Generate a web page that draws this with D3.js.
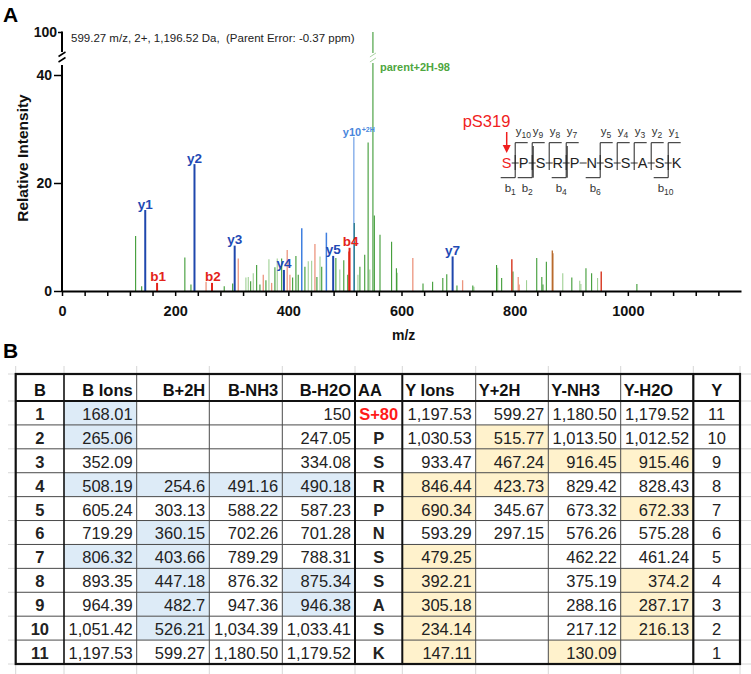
<!DOCTYPE html>
<html><head><meta charset="utf-8">
<script src="https://cdn.jsdelivr.net/npm/d3@7"></script>
<style>
body{margin:0;background:#fff}
svg{display:block}
text{font-family:"Liberation Sans",Arial,sans-serif}
</style>
</head><body>
<svg id="c" width="751" height="674"></svg>
<script>
// ---------------- DATA ----------------
const headerText = "599.27 m/z, 2+, 1,196.52 Da,  (Parent Error: -0.37 ppm)";
const parentLabel = "parent+2H-98";
const yAxisLabel = "Relative Intensity";
const xAxisLabel = "m/z";
const xMajorTicks = [0, 200, 400, 600, 800, 1000];
const xMinorStep = 40;
const xMax = 1160;
const yLowTicks = [0, 20, 40];
const yHighTicks = [100];

// [m/z, relative intensity]
const greenPeaks = [[130.1,10.2],[140.8,0.9],[217.12,6.2],[227.9,1.2],[286.7,0.9],[301.6,1.4],[333.4,1.8],[344,4.8],[349.8,1.2],[360.4,2.0],[376.3,4.4],[388.2,6.0],[407.6,2.5],[413.4,6.5],[417.5,3.0],[429.3,4.5],[450.5,2.6],[459,4.5],[484,6.1],[498,5.7],[505,3.0],[526.5,4.5],[535,6.7],[541,27.5],[549.5,100],[552,14],[562,10.4],[582.5,9.1],[591,4.2],[638,1.4],[655,1.7],[673,2.4],[680,3.1],[698,1.0],[726,1.0],[768,4.8],[777,2.4],[797,3.6],[839,6.1],[848,2.6],[850,1.2],[856,5.4],[901,2.5],[926,4.2],[936,3.3],[1016,1.3]];
const faintGreenPeaks = [[325,2.5],[329.2,2.6],[338,3.3],[365.7,5.9],[380.4,6.0],[435.2,5.5],[441.2,5.6],[456,6.4],[491,4.0],[523,3.0],[544,4.0],[592.5,3.4],[728,0.8],[770,4.3],[821,2.0],[885,3.3],[915,1.9],[917,1.3],[946.5,2.4]];
const bRelatedPeaks = [[254.6,1.7],[311.5,6.0],[355.7,3.0],[370.5,1.5],[398,7.6],[402.8,3.0],[447,8.7],[620,6.1],[708,2.0],[806.3,2.6],[808,1.2]];
const redPeaks = [[507.2,7.3],[795,5.9],[953,3.6]];
const y2HPeaks = [[423.73,11.6],[467.24,10.8]];
const y10_2HPeak = [[515.77,28.5]];
const tealPeaks = [[516.6,12.6]];
const brownPeaks = [[866.5,7.5],[867.5,7.0]];
// labelled ions [m/z, intensity, label]
const yIonPeaks = [[147.11,15,"y1"],[234.14,23.5,"y2"],[305.18,8.4,"y3"],[392.21,3.9,"y4"],[479.25,6.5,"y5"],[690.34,6.4,"y7"]];
const bIonPeaks = [[168.01,1.5,"b1"],[265.06,1.5,"b2"],[508.19,8.0,"b4"]];

// peptide
const phosphoSite = "pS319";
const residues = ["S","P","S","R","P","N","S","S","A","S","K"];
const yFragments = [10,9,8,7,5,4,3,2,1];
const bFragments = [1,2,4,6,10];

// table
const tableHeaders = ["B","B Ions","B+2H","B-NH3","B-H2O","AA","Y Ions","Y+2H","Y-NH3","Y-H2O","Y"];
const bNum   = ["1","2","3","4","5","6","7","8","9","10","11"];
const bIons  = ["168.01","265.06","352.09","508.19","605.24","719.29","806.32","893.35","964.39","1,051.42","1,197.53"];
const b2H    = ["","","","254.6","303.13","360.15","403.66","447.18","482.7","526.21","599.27"];
const bNH3   = ["","","","491.16","588.22","702.26","789.29","876.32","947.36","1,034.39","1,180.50"];
const bH2O   = ["150","247.05","334.08","490.18","587.23","701.28","788.31","875.34","946.38","1,033.41","1,179.52"];
const aa     = ["S+80","P","S","R","P","N","S","S","A","S","K"];
const yIons  = ["1,197.53","1,030.53","933.47","846.44","690.34","593.29","479.25","392.21","305.18","234.14","147.11"];
const y2H    = ["599.27","515.77","467.24","423.73","345.67","297.15","","","","",""];
const yNH3   = ["1,180.50","1,013.50","916.45","829.42","673.32","576.26","462.22","375.19","288.16","217.12","130.09"];
const yH2O   = ["1,179.52","1,012.52","915.46","828.43","672.33","575.28","461.24","374.2","287.17","216.13",""];
const yNum   = ["11","10","9","8","7","6","5","4","3","2","1"];
// matched cells (row indices) per column
const bMatched = {1:[0,1,3,6], 2:[3,5,6,7,8,9], 3:[3], 4:[3,7,8]};
const yMatched = {6:[3,4,6,7,8,9,10], 7:[1,2,3], 8:[2,10], 9:[2,4,7,8,9]};

// ---------------- DRAW ----------------
const svg = d3.select("#c");

// panel letters
svg.append("text").attr("x",3).attr("y",21.7).attr("font-size",21).attr("font-weight","bold").text("A");
svg.append("text").attr("x",3).attr("y",358.3).attr("font-size",21).attr("font-weight","bold").text("B");

const x = d3.scaleLinear().domain([0,1200]).range([62,741]);
const y = d3.scaleLinear().domain([0,40,41.85,95,100]).range([291,75,65,52,32]);

function drawPeaks(data, color, width){
  svg.append("g").selectAll("line").data(data).join("line")
    .attr("x1",d=>x(d[0])).attr("x2",d=>x(d[0]))
    .attr("y1",y(0)).attr("y2",d=>y(d[1]))
    .attr("stroke",color).attr("stroke-width",width);
}
drawPeaks(faintGreenPeaks,"#9fd094",1.1);
drawPeaks(greenPeaks,"#3e9b35",1.1);
drawPeaks(bRelatedPeaks,"#ec957e",1.3);
drawPeaks(redPeaks,"#d9412b",1.5);
drawPeaks(brownPeaks,"#b8692a",1.3);
drawPeaks(y10_2HPeak,"#7ba7e8",1.3);
drawPeaks(tealPeaks,"#2f7f8c",1.3);
drawPeaks(y2HPeaks,"#3f7fe0",1.5);
drawPeaks(yIonPeaks,"#1f47ad",2);
drawPeaks(bIonPeaks,"#e3241a",2);

// break on parent peak
const parentX = x(549.5);
svg.append("rect").attr("x",parentX-4).attr("y",53).attr("width",8).attr("height",10).attr("fill","#fff");
[[57],[62]].forEach(([yy])=>{
  svg.append("line").attr("x1",parentX-3).attr("x2",parentX+3).attr("y1",yy).attr("y2",yy-4)
    .attr("stroke","#a9d3a0").attr("stroke-width",1);
});

// ion labels
svg.append("g").selectAll("text").data(yIonPeaks).join("text")
  .attr("x",d=>x(d[0])).attr("y",d=>y(d[1])-1.5).attr("text-anchor","middle")
  .attr("font-size",13.5).attr("font-weight","bold").attr("fill","#1f4ab5").text(d=>d[2]);
svg.append("g").selectAll("text").data(bIonPeaks).join("text")
  .attr("x",d=>x(d[0])+1).attr("y",d=>y(d[1])-1.5).attr("text-anchor","middle")
  .attr("font-size",13.5).attr("font-weight","bold").attr("fill","#e3241a").text(d=>d[2]);
const y10t = svg.append("text").attr("x",x(y10_2HPeak[0][0])-11).attr("y",y(y10_2HPeak[0][1])-1.5)
  .attr("font-size",11).attr("font-weight","bold").attr("fill","#4a86dc");
y10t.append("tspan").text("y10");
y10t.append("tspan").attr("font-size",7).attr("dy",-4).attr("dx",0.5).text("+2H");

// parent label
svg.append("text").attr("x",parentX+7).attr("y",70.5).attr("font-size",11).attr("font-weight","bold")
  .attr("fill","#4ea640").text(parentLabel);

// header
svg.append("text").attr("x",71).attr("y",41.5).attr("font-size",11.5).attr("fill","#222").attr("xml:space","preserve").text(headerText);

// x axis
const xTicks = d3.range(0, xMax+1, xMinorStep);
const gx = svg.append("g").attr("transform",`translate(0,${y(0)})`)
  .call(d3.axisBottom(x).tickValues(xTicks).tickFormat(d=>xMajorTicks.includes(d)?d:"")
    .tickSize(5).tickPadding(10).tickSizeOuter(0));
gx.attr("font-family","Liberation Sans, Arial, sans-serif").attr("font-size",14.5).attr("font-weight","bold");
gx.select(".domain").attr("stroke","#000").attr("stroke-width",2);
gx.selectAll(".tick line").attr("stroke","#000").attr("stroke-width",1.5);
gx.selectAll(".tick text").attr("fill","#111");

// y axis
const gy = svg.append("g").attr("transform","translate(62,0)")
  .call(d3.axisLeft(y).tickValues(yLowTicks).tickSize(8).tickPadding(2));
const gy2 = svg.append("g").attr("transform","translate(62,0)")
  .call(d3.axisLeft(y).tickValues(yHighTicks).tickSize(4).tickPadding(1));
[gy,gy2].forEach(g=>{
  g.select(".domain").remove();
  g.attr("font-family","Liberation Sans, Arial, sans-serif").attr("font-size",14).attr("font-weight","bold");
  g.selectAll(".tick line").attr("stroke","#000").attr("stroke-width",1.5);
  g.selectAll(".tick text").attr("fill","#111");
});
svg.append("line").attr("x1",62).attr("x2",62).attr("y1",y(0)+1).attr("y2",y(41.85)).attr("stroke","#000").attr("stroke-width",2);
svg.append("line").attr("x1",62).attr("x2",62).attr("y1",y(95)).attr("y2",y(100)-0.5).attr("stroke","#000").attr("stroke-width",2);
[[56.5],[62]].forEach(([yy])=>{
  svg.append("line").attr("x1",58.5).attr("x2",65.5).attr("y1",yy).attr("y2",yy-4.5)
    .attr("stroke","#000").attr("stroke-width",1.5);
});

svg.append("text").attr("transform","translate(27.5,158) rotate(-90)").attr("text-anchor","middle")
  .attr("font-size",15.5).attr("font-weight","bold").attr("fill","#111").text(yAxisLabel);
svg.append("text").attr("x",403.7).attr("y",339.5).attr("text-anchor","middle")
  .attr("font-size",14).attr("font-weight","bold").attr("fill","#111").text(xAxisLabel);

// ---------------- peptide diagram ----------------
const rx = d3.scalePoint().domain(d3.range(residues.length)).range([506.7,676.7]);
const brk = k => (rx(k)+rx(k+1))/2;
const pep = svg.append("g");
pep.append("text").attr("x",462.7).attr("y",126.5).attr("font-size",16.5).attr("fill","#f01e1e").text(phosphoSite);
pep.append("line").attr("x1",rx(0)).attr("x2",rx(0)).attr("y1",132).attr("y2",146).attr("stroke","#f01e1e").attr("stroke-width",1.5);
pep.append("path").attr("d",`M${rx(0)-4},145L${rx(0)+4},145L${rx(0)},153Z`).attr("fill","#f01e1e");
// dashes
pep.selectAll("line.dash").data(d3.range(residues.length-1)).join("line").attr("class","dash")
  .attr("x1",k=>rx(k)+5).attr("x2",k=>rx(k+1)-5).attr("y1",163).attr("y2",163)
  .attr("stroke","#333").attr("stroke-width",1);
pep.selectAll("text.res").data(residues).join("text").attr("class","res")
  .attr("x",(d,i)=>rx(i)).attr("y",167.5).attr("text-anchor","middle")
  .attr("font-family","Liberation Mono, Courier New, monospace").attr("font-size",14.5)
  .attr("fill",(d,i)=>i===0?"#f01e1e":"#222").text(d=>d);
// y markers
yFragments.forEach(n=>{
  const xb = brk(residues.length-1-n);
  pep.append("path").attr("d",`M${xb},170V142.7H${xb+12.5}`).attr("fill","none").attr("stroke","#222").attr("stroke-width",1);
  const t = pep.append("text").attr("x",xb+0.5).attr("y",135).attr("font-family","DejaVu Sans, sans-serif").attr("font-size",11.5).attr("fill","#333");
  t.append("tspan").text("y");
  t.append("tspan").attr("font-size",8.5).attr("dy",3).text(n);
});
// b markers
bFragments.forEach(n=>{
  const xb = brk(n-1);
  pep.append("path").attr("d",`M${xb},155V177.7H${xb-14.5}`).attr("fill","none").attr("stroke","#222").attr("stroke-width",1);
  if(yFragments.includes(residues.length-n) && (n===2||n===4)){
    pep.append("line").attr("x1",xb+1).attr("x2",xb+1).attr("y1",146).attr("y2",177.7).attr("stroke","#222").attr("stroke-width",1);
  }
  const t = pep.append("text").attr("x",rx(n-1)-2).attr("y",192).attr("font-family","DejaVu Sans, sans-serif").attr("font-size",11.5).attr("fill","#333");
  t.append("tspan").text("b");
  t.append("tspan").attr("font-size",8.5).attr("dy",2.5).text(n);
});

// ---------------- table ----------------
const columns = [bNum,bIons,b2H,bNH3,bH2O,aa,yIons,y2H,yNH3,yH2O,yNum];
const colEdges = [15.7,64,136.7,209.3,282.3,355,402.3,475.7,548.3,620.7,693.3,740];
const tTop = 374, hBot = 401, tBot = 664;
const rowScale = d3.scaleBand().domain(d3.range(bNum.length)).range([hBot,tBot]);
const tg = svg.append("g");

// faint spreadsheet gridlines outside the table
colEdges.forEach(cx=>{
  tg.append("line").attr("x1",cx).attr("x2",cx).attr("y1",366).attr("y2",tTop).attr("stroke","#d6d6d6");
  tg.append("line").attr("x1",cx).attr("x2",cx).attr("y1",tBot).attr("y2",674).attr("stroke","#d6d6d6");
});
[tTop,hBot,...d3.range(bNum.length).map(i=>rowScale(i)+rowScale.bandwidth()),].forEach(ry=>{
  tg.append("line").attr("x1",8).attr("x2",colEdges[0]).attr("y1",ry).attr("y2",ry).attr("stroke","#d6d6d6");
  tg.append("line").attr("x1",colEdges[11]).attr("x2",751).attr("y1",ry).attr("y2",ry).attr("stroke","#d6d6d6");
});

// fills
function fillCells(map,color){
  Object.keys(map).forEach(c=>{
    map[c].forEach(r=>{
      tg.append("rect").attr("x",colEdges[+c]).attr("y",rowScale(r))
        .attr("width",colEdges[+c+1]-colEdges[+c]).attr("height",rowScale.bandwidth()).attr("fill",color);
    });
  });
}
fillCells(bMatched,"#ddebf7");
fillCells(yMatched,"#fff2cc");

// inner lines
d3.range(bNum.length-1).forEach(i=>{
  const ry = rowScale(i)+rowScale.bandwidth();
  tg.append("line").attr("x1",colEdges[0]).attr("x2",colEdges[11]).attr("y1",ry).attr("y2",ry).attr("stroke","#4a4a4a").attr("stroke-width",1);
});
const vWidth = [0,1.6,1,1,1,2,2,1,1,1,2.2,0];
colEdges.forEach((cx,i)=>{
  if(i===0||i===11) return;
  tg.append("line").attr("x1",cx).attr("x2",cx).attr("y1",tTop).attr("y2",tBot)
    .attr("stroke",vWidth[i]>1.5?"#111":"#4a4a4a").attr("stroke-width",vWidth[i]);
});
tg.append("line").attr("x1",colEdges[0]).attr("x2",colEdges[11]).attr("y1",hBot).attr("y2",hBot).attr("stroke","#111").attr("stroke-width",2);
tg.append("rect").attr("x",colEdges[0]).attr("y",tTop).attr("width",colEdges[11]-colEdges[0]).attr("height",tBot-tTop)
  .attr("fill","none").attr("stroke","#111").attr("stroke-width",2.2);

// header text
const hAlign = ["middle","end","end","end","end","start","start","start","start","start","middle"];
const cAlign = ["middle","end","end","end","end","middle","end","end","end","end","middle"];
function ax(i,al){
  if(al==="middle") return (colEdges[i]+colEdges[i+1])/2;
  if(al==="end") return colEdges[i+1]-4;
  return colEdges[i]+3;
}
tableHeaders.forEach((h,i)=>{
  tg.append("text").attr("x",ax(i,hAlign[i])).attr("y",hBot-5.3).attr("text-anchor",hAlign[i])
    .attr("font-size",16.5).attr("font-weight","bold").attr("fill","#111").text(h);
});
columns.forEach((col,ci)=>{
  col.forEach((v,ri)=>{
    if(!v) return;
    tg.append("text").attr("x",ax(ci,cAlign[ci])).attr("y",rowScale(ri)+rowScale.bandwidth()-5)
      .attr("text-anchor",cAlign[ci]).attr("font-size",16.5)
      .attr("font-weight",(ci===0||ci===5)?"bold":"normal")
      .attr("fill",(ci===5&&ri===0)?"#ff1a1a":"#222").text(v);
  });
});
</script>
</body></html>
